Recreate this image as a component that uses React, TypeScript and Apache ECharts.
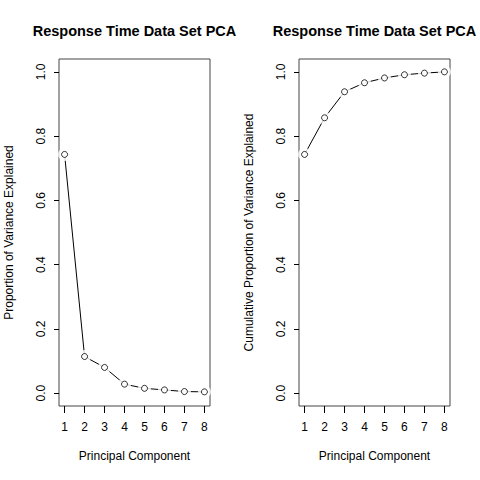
import React, { useEffect, useRef } from 'react';
import * as echarts from 'echarts';

// principal components and the variance they explain
const components = [1, 2, 3, 4, 5, 6, 7, 8];
const propVariance = [0.743, 0.114, 0.08, 0.028, 0.015, 0.01, 0.005, 0.004];
const cumVariance = [0.743, 0.857, 0.938, 0.966, 0.981, 0.991, 0.996, 1.0];
const yTicks = [0, 0.2, 0.4, 0.6, 0.8, 1.0];
const chartTitle = 'Response Time Data Set PCA';
const xTitle = 'Principal Component';
const yTitles = ['Proportion of Variance Explained', 'Cumulative Proportion of Variance Explained'];

const FONT = 'Liberation Sans, Arial, sans-serif';

const App: React.FC = () => {
    const chartRef = useRef<HTMLDivElement>(null);

    useEffect(() => {
        if (!chartRef.current) return;
        const chart = echarts.init(chartRef.current, null, { renderer: 'svg' });

        const panels = [propVariance, cumVariance];
        const lefts = [59, 299];

        const xAxis = panels.map((_, i) => ({
            type: 'value',
            gridIndex: i,
            min: 0.72,
            max: 8.28,
            splitLine: { show: false },
            axisLine: { show: false, onZero: false },
            axisTick: { show: true, length: 7, customValues: components, lineStyle: { color: '#000' } },
            axisLabel: { customValues: components, color: '#000', fontSize: 12, fontFamily: FONT, margin: 15 },
            name: xTitle,
            nameLocation: 'middle',
            nameGap: 44,
            nameTextStyle: { color: '#000', fontSize: 12, fontFamily: FONT },
        }));

        const yAxis = panels.map((_, i) => ({
            type: 'value',
            gridIndex: i,
            min: -0.04,
            max: 1.04,
            splitLine: { show: false },
            axisLine: { show: false, onZero: false },
            axisTick: { show: true, length: 5, customValues: yTicks, lineStyle: { color: '#000' } },
            axisLabel: {
                customValues: yTicks,
                rotate: 90,
                color: '#000',
                fontSize: 12,
                fontFamily: FONT,
                margin: 12,
                formatter: (v: number) => v.toFixed(1),
            },
            name: yTitles[i],
            nameLocation: 'middle',
            nameGap: 44,
            nameTextStyle: { color: '#000', fontSize: 12, fontFamily: FONT },
        }));

        const series: any[] = [];
        panels.forEach((vals, i) => {
            const pts = components.map((c, k) => [c, vals[k]]);
            series.push({
                type: 'line',
                xAxisIndex: i,
                yAxisIndex: i,
                data: pts,
                showSymbol: false,
                lineStyle: { color: '#000', width: 1 },
                z: 2,
            });
            // white halo leaves the gap between line and point, like R's type = "b"
            series.push({
                type: 'scatter',
                xAxisIndex: i,
                yAxisIndex: i,
                data: pts,
                symbol: 'circle',
                symbolSize: 13,
                itemStyle: { color: '#fff', borderWidth: 0 },
                z: 3,
            });
            series.push({
                type: 'scatter',
                xAxisIndex: i,
                yAxisIndex: i,
                data: pts,
                symbol: 'circle',
                symbolSize: 6,
                itemStyle: { color: '#fff', borderColor: '#000', borderWidth: 1 },
                z: 4,
            });
        });

        const option = {
            animation: false,
            backgroundColor: '#fff',
            grid: lefts.map((l) => ({
                left: l,
                top: 59,
                width: 151,
                height: 347,
                show: true,
                borderColor: '#444',
                borderWidth: 1,
                backgroundColor: 'transparent',
            })),
            xAxis,
            yAxis,
            series,
            graphic: lefts.map((l) => ({
                type: 'text',
                x: l + 75.5,
                y: 31,
                style: {
                    text: chartTitle,
                    align: 'center',
                    verticalAlign: 'middle',
                    font: `bold 14.5px ${FONT}`,
                    fill: '#000',
                },
            })),
        };

        chart.setOption(option);
        return () => {
            chart.dispose();
        };
    }, []);

    return (
        <div
            ref={chartRef}
            style={{ position: 'fixed', left: 0, top: 0, width: '480px', height: '480px' }}
        />
    );
};

export default App;
